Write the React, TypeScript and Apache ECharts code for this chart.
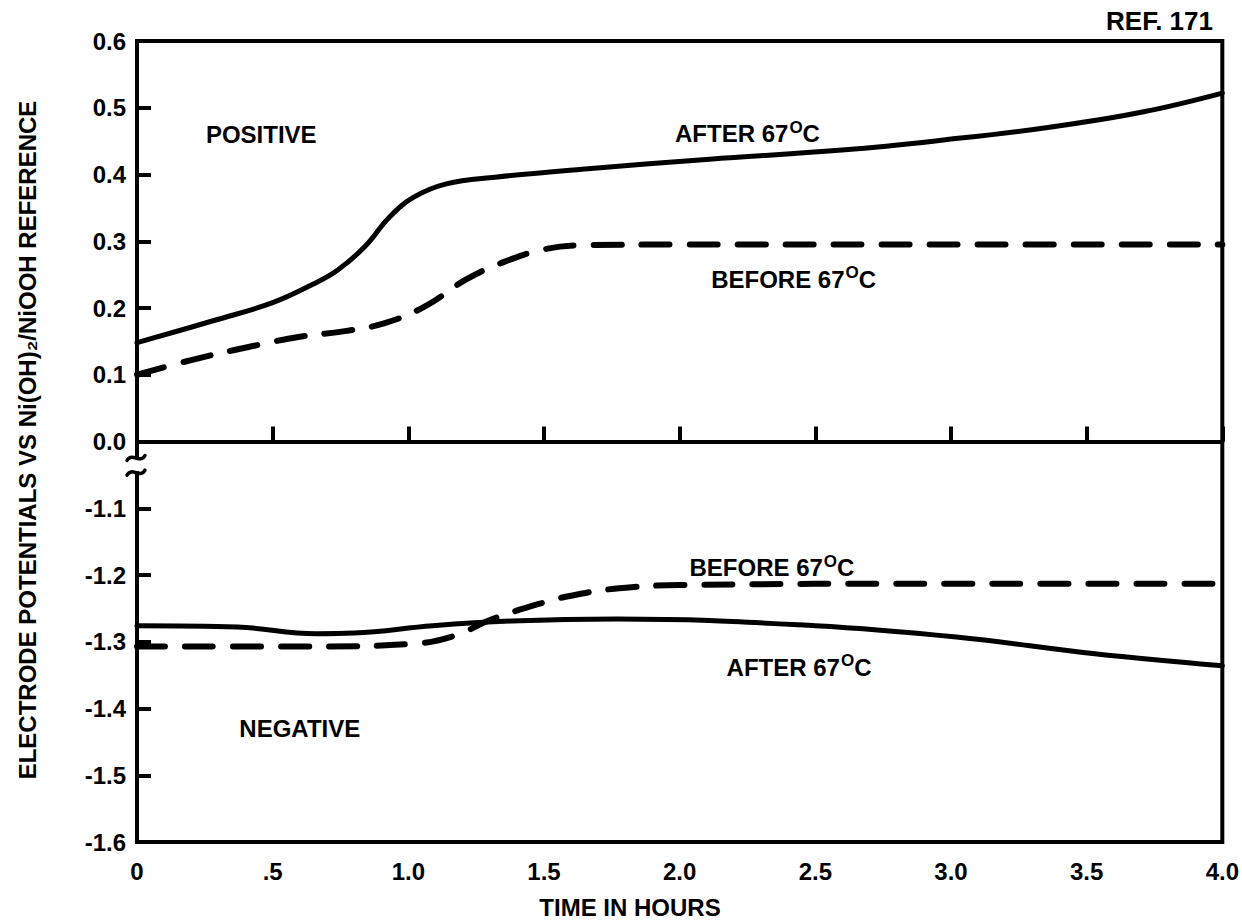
import React, { useEffect, useRef } from "react";
import * as echarts from "echarts";

// ---------------- data ----------------
const xTickLabels = ["0", ".5", "1.0", "1.5", "2.0", "2.5", "3.0", "3.5", "4.0"];
const yTickLabels = ["-1.6", "-1.5", "-1.4", "-1.3", "-1.2", "-1.1", "0.0", "0.1", "0.2", "0.3", "0.4", "0.5", "0.6"];

// positive electrode, after 67 C (hours, volts)
const positiveAfter: [number, number][] = [
  [0, 0.148], [0.29, 0.182], [0.5, 0.208], [0.65, 0.236], [0.74, 0.257], [0.84, 0.292],
  [0.93, 0.336], [1.02, 0.366], [1.14, 0.386], [1.32, 0.396], [1.64, 0.408], [2.11, 0.423],
  [2.61, 0.437], [2.98, 0.452], [3.35, 0.470], [3.71, 0.494], [4.0, 0.522],
];
// positive electrode, before 67 C
const positiveBefore: [number, number][] = [
  [0, 0.1], [0.2, 0.122], [0.45, 0.145], [0.6, 0.157], [0.76, 0.165], [0.91, 0.177],
  [1.06, 0.202], [1.21, 0.242], [1.34, 0.267], [1.49, 0.287], [1.64, 0.294], [2.0, 0.295],
  [3.0, 0.295], [4.0, 0.295],
];
// negative electrode, after 67 C
const negativeAfter: [number, number][] = [
  [0, -1.276], [0.37, -1.278], [0.66, -1.288], [0.8, -1.287], [1.09, -1.276], [1.38, -1.269],
  [1.77, -1.266], [2.5, -1.276], [3.02, -1.293], [3.53, -1.318], [4.0, -1.336],
];
// negative electrode, before 67 C
const negativeBefore: [number, number][] = [
  [0, -1.307], [0.66, -1.307], [1.02, -1.303], [1.17, -1.291], [1.31, -1.266], [1.5, -1.241],
  [1.6, -1.231], [1.75, -1.221], [2.0, -1.215], [3.0, -1.213], [4.0, -1.213],
];

// the lower panel (-1.6 .. -1.1) is drawn on the same axis, shifted up by this amount
const BREAK_SHIFT = 1.0;

const FONT = '"Liberation Sans", Arial, Helvetica, sans-serif';
const INK = "#000";

const shifted = (pts: [number, number][]) => pts.map(([t, v]) => [t, +(v + BREAK_SHIFT).toFixed(4)]);

function yLabel(v: number) {
  const idx = Math.round((v + 0.6) / 0.1);
  return yTickLabels[idx] ?? "";
}
function xLabel(v: number) {
  const idx = Math.round(v / 0.5);
  return xTickLabels[idx] ?? "";
}

const solidStyle = { color: INK, width: 5, cap: "round" as const, join: "round" as const };
const dashStyle = { color: INK, width: 6, type: [28, 20], cap: "round" as const, join: "round" as const };

function lineSeries(name: string, data: number[][], style: any) {
  return {
    name,
    type: "line",
    data,
    smooth: 0.4,
    showSymbol: false,
    symbol: "none",
    lineStyle: style,
    z: 3,
  };
}

const textStyle = (size: number) => ({ fontFamily: FONT, fontWeight: "bold", fontSize: size, color: INK });

export default function App() {
  const ref = useRef<HTMLDivElement>(null);

  useEffect(() => {
    const chart = echarts.init(ref.current!, null, { renderer: "svg" });
    chart.setOption({
      animation: false,
      backgroundColor: "#fff",
      grid: {
        left: 137,
        right: 14,
        top: 41,
        bottom: 81,
        show: true,
        borderColor: INK,
        borderWidth: 4,
        backgroundColor: "transparent",
      },
      xAxis: {
        type: "value",
        min: 0,
        max: 4,
        interval: 0.5,
        splitLine: { show: false },
        axisLine: { show: true, lineStyle: { color: INK, width: 4 } },
        axisTick: { show: true, inside: true, length: 15, lineStyle: { color: INK, width: 4 } },
        axisLabel: {
          ...textStyle(24),
          margin: 17,
          formatter: (v: number) => xLabel(v),
          showMinLabel: true,
          showMaxLabel: true,
          hideOverlap: false,
        },
      },
      yAxis: {
        type: "value",
        min: -0.6,
        max: 0.6,
        interval: 0.1,
        splitLine: { show: false },
        axisLine: { show: false },
        axisTick: { show: true, inside: true, length: 14, lineStyle: { color: INK, width: 4 } },
        axisLabel: {
          ...textStyle(24),
          margin: 11,
          formatter: (v: number) => yLabel(v),
          showMinLabel: true,
          showMaxLabel: true,
          hideOverlap: false,
        },
      },
      series: [
        lineSeries("Positive after 67°C", positiveAfter, solidStyle),
        lineSeries("Positive before 67°C", positiveBefore, dashStyle),
        lineSeries("Negative after 67°C", shifted(negativeAfter), solidStyle),
        lineSeries("Negative before 67°C", shifted(negativeBefore), dashStyle),
      ],
    });

    const px = (t: number, v: number) => chart.convertToPixel({ gridIndex: 0 } as any, [t, v]) as number[];
    const axisX = px(0, 0)[0];
    const gapTop = px(0, -0.024)[1];
    const gapBot = px(0, -0.046)[1];

    const label = (text: string, t: number, v: number, size = 24) => {
      const [x, y] = px(t, v);
      return {
        type: "text",
        x,
        y,
        z: 10,
        style: {
          text,
          ...textStyle(size),
          fill: INK,
          align: "center",
          verticalAlign: "middle",
        },
      };
    };
    const degLabel = (prefix: string, t: number, v: number) => {
      const [x, y] = px(t, v);
      return {
        type: "text",
        x,
        y,
        z: 10,
        style: {
          text: `{a|${prefix} 67}{s|O}{a|C}`,
          align: "center",
          verticalAlign: "middle",
          rich: {
            a: { fontFamily: FONT, fontWeight: "bold", fontSize: 24, lineHeight: 27, fill: INK, color: INK, verticalAlign: "bottom" },
            s: { fontFamily: FONT, fontWeight: "bold", fontSize: 17, lineHeight: 27, fill: INK, color: INK, verticalAlign: "top", padding: [0, 0, 10, 1] },
          },
        },
      };
    };

    const tilde = (yc: number) => ({
      type: "bezierCurve",
      z: 12,
      shape: {
        x1: axisX - 10,
        y1: yc + 3,
        cpx1: axisX - 5,
        cpy1: yc - 6,
        cpx2: axisX + 3,
        cpy2: yc + 7,
        x2: axisX + 8,
        y2: yc - 2,
      },
      style: { stroke: INK, lineWidth: 3.5, fill: null, lineCap: "round" },
    });

    const [, gridTop] = px(0, 0.6);
    const [, gridBottom] = px(0, -0.6);

    chart.setOption({
      graphic: [
        // solid left axis line, broken between the two panels
        {
          type: "line",
          z: 11,
          shape: { x1: axisX, y1: gridTop, x2: axisX, y2: gapTop },
          style: { stroke: INK, lineWidth: 4 },
        },
        {
          type: "line",
          z: 11,
          shape: { x1: axisX, y1: gapBot, x2: axisX, y2: gridBottom },
          style: { stroke: INK, lineWidth: 4 },
        },
        {
          type: "rect",
          z: 10,
          shape: { x: axisX - 4, y: gapTop + 1, width: 8, height: gapBot - gapTop - 2 },
          style: { fill: "#fff" },
        },
        tilde(gapTop),
        tilde(gapBot),
        label("POSITIVE", 0.458, 0.46),
        label("NEGATIVE", 0.6, -1.43 + BREAK_SHIFT),
        degLabel("AFTER", 2.25, 0.463),
        degLabel("BEFORE", 2.42, 0.245),
        degLabel("BEFORE", 2.34, -1.187 + BREAK_SHIFT),
        degLabel("AFTER", 2.44, -1.336 + BREAK_SHIFT),
        {
          type: "text",
          x: 630,
          y: 907,
          z: 10,
          style: { text: "TIME IN HOURS", ...textStyle(24), fill: INK, align: "center", verticalAlign: "middle" },
        },
        {
          type: "text",
          x: 27,
          y: 440,
          rotation: Math.PI / 2,
          z: 10,
          style: {
            text: "ELECTRODE POTENTIALS VS Ni(OH)₂/NiOOH REFERENCE",
            ...textStyle(24),
            fill: INK,
            align: "center",
            verticalAlign: "middle",
          },
        },
        {
          type: "text",
          x: 1213,
          y: 21,
          z: 10,
          style: { text: "REF. 171", ...textStyle(26), fill: INK, align: "right", verticalAlign: "middle" },
        },
      ],
    });

    return () => chart.dispose();
  }, []);

  return (
    <div
      ref={ref}
      style={{ position: "absolute", left: 0, top: 0, width: 1242, height: 923, background: "#fff" }}
    />
  );
}
